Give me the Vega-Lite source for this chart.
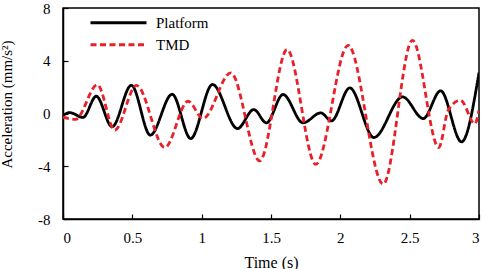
{
  "$schema": "https://vega.github.io/schema/vega-lite/v6.json",
  "width": 416,
  "height": 211,
  "autosize": {"type": "none"},
  "padding": {"left": 63, "top": 8, "right": 7, "bottom": 50},
  "background": "white",
  "config": {
    "font": "Liberation Serif",
    "view": {"stroke": "#000000", "strokeWidth": 1.5},
    "axis": {
      "grid": false,
      "domainColor": "#000000",
      "domainWidth": 1.5,
      "tickColor": "#000000",
      "tickSize": -5,
      "tickWidth": 1.2,
      "labelFont": "Liberation Serif",
      "labelFontSize": 15,
      "labelColor": "#000000",
      "titleFont": "Liberation Serif",
      "titleFontSize": 16,
      "titleFontWeight": "normal",
      "titleColor": "#000000"
    },
    "legend": {
      "orient": "none",
      "legendX": 26,
      "legendY": 4,
      "title": null,
      "padding": 0,
      "symbolType": "stroke",
      "symbolSize": 3136,
      "symbolStrokeWidth": 3,
      "clipHeight": 21.5,
      "rowPadding": 0,
      "labelOffset": 8,
      "labelFont": "Liberation Serif",
      "labelFontSize": 15,
      "labelColor": "#000000"
    }
  },
  "data": {
    "values": [
      {"series": "Platform", "t": 0.0, "a": -0.15},
      {"series": "Platform", "t": 0.048, "a": 0.07},
      {"series": "Platform", "t": 0.144, "a": -0.3},
      {"series": "Platform", "t": 0.24, "a": 1.31},
      {"series": "Platform", "t": 0.354, "a": -1.01},
      {"series": "Platform", "t": 0.493, "a": 2.14},
      {"series": "Platform", "t": 0.63, "a": -1.64},
      {"series": "Platform", "t": 0.787, "a": 1.46},
      {"series": "Platform", "t": 0.921, "a": -1.9},
      {"series": "Platform", "t": 1.078, "a": 2.2},
      {"series": "Platform", "t": 1.258, "a": -1.14},
      {"series": "Platform", "t": 1.376, "a": 0.3},
      {"series": "Platform", "t": 1.467, "a": -0.71},
      {"series": "Platform", "t": 1.587, "a": 1.44},
      {"series": "Platform", "t": 1.731, "a": -0.71},
      {"series": "Platform", "t": 1.859, "a": 0.05},
      {"series": "Platform", "t": 1.936, "a": -0.56},
      {"series": "Platform", "t": 2.068, "a": 1.94},
      {"series": "Platform", "t": 2.242, "a": -1.82},
      {"series": "Platform", "t": 2.449, "a": 1.26},
      {"series": "Platform", "t": 2.598, "a": -0.38},
      {"series": "Platform", "t": 2.723, "a": 1.72},
      {"series": "Platform", "t": 2.874, "a": -2.15},
      {"series": "Platform", "t": 3.0, "a": 3.1},
      {"series": "TMD", "t": 0.0, "a": -0.28},
      {"series": "TMD", "t": 0.09, "a": -0.45},
      {"series": "TMD", "t": 0.248, "a": 2.18},
      {"series": "TMD", "t": 0.373, "a": -1.26},
      {"series": "TMD", "t": 0.53, "a": 2.14},
      {"series": "TMD", "t": 0.734, "a": -2.58},
      {"series": "TMD", "t": 0.902, "a": 0.93},
      {"series": "TMD", "t": 1.01, "a": -0.38},
      {"series": "TMD", "t": 1.21, "a": 3.08},
      {"series": "TMD", "t": 1.419, "a": -3.59},
      {"series": "TMD", "t": 1.616, "a": 4.85},
      {"series": "TMD", "t": 1.823, "a": -3.86},
      {"series": "TMD", "t": 2.056, "a": 5.17},
      {"series": "TMD", "t": 2.309, "a": -5.36},
      {"series": "TMD", "t": 2.52, "a": 5.55},
      {"series": "TMD", "t": 2.71, "a": -2.58},
      {"series": "TMD", "t": 2.778, "a": 0.25},
      {"series": "TMD", "t": 2.867, "a": 1.0},
      {"series": "TMD", "t": 2.97, "a": -0.78},
      {"series": "TMD", "t": 3.0, "a": 0.25}
    ]
  },
  "mark": {"type": "line", "interpolate": "monotone", "strokeWidth": 2.8, "clip": true},
  "encoding": {
    "x": {
      "field": "t",
      "type": "quantitative",
      "scale": {"domain": [0, 3], "nice": false},
      "axis": {
        "title": "Time (s)",
        "values": [0, 0.5, 1, 1.5, 2, 2.5, 3],
        "labelExpr": "'' + datum.value",
        "labelPadding": 16,
        "titlePadding": 9
      }
    },
    "y": {
      "field": "a",
      "type": "quantitative",
      "scale": {"domain": [-8, 8], "nice": false},
      "axis": {
        "title": "Acceleration (mm/s²)",
        "titleFontSize": 15,
        "values": [-8, -4, 0, 4, 8],
        "labelExpr": "'' + datum.value",
        "labelPadding": 18,
        "titlePadding": 23,
        "titleY": 96
      }
    },
    "color": {
      "field": "series",
      "type": "nominal",
      "scale": {"domain": ["Platform", "TMD"], "range": ["#000000", "#e8202a"]}
    },
    "strokeDash": {
      "field": "series",
      "type": "nominal",
      "scale": {"domain": ["Platform", "TMD"], "range": [[1, 0], [6, 3.5]]}
    }
  }
}
